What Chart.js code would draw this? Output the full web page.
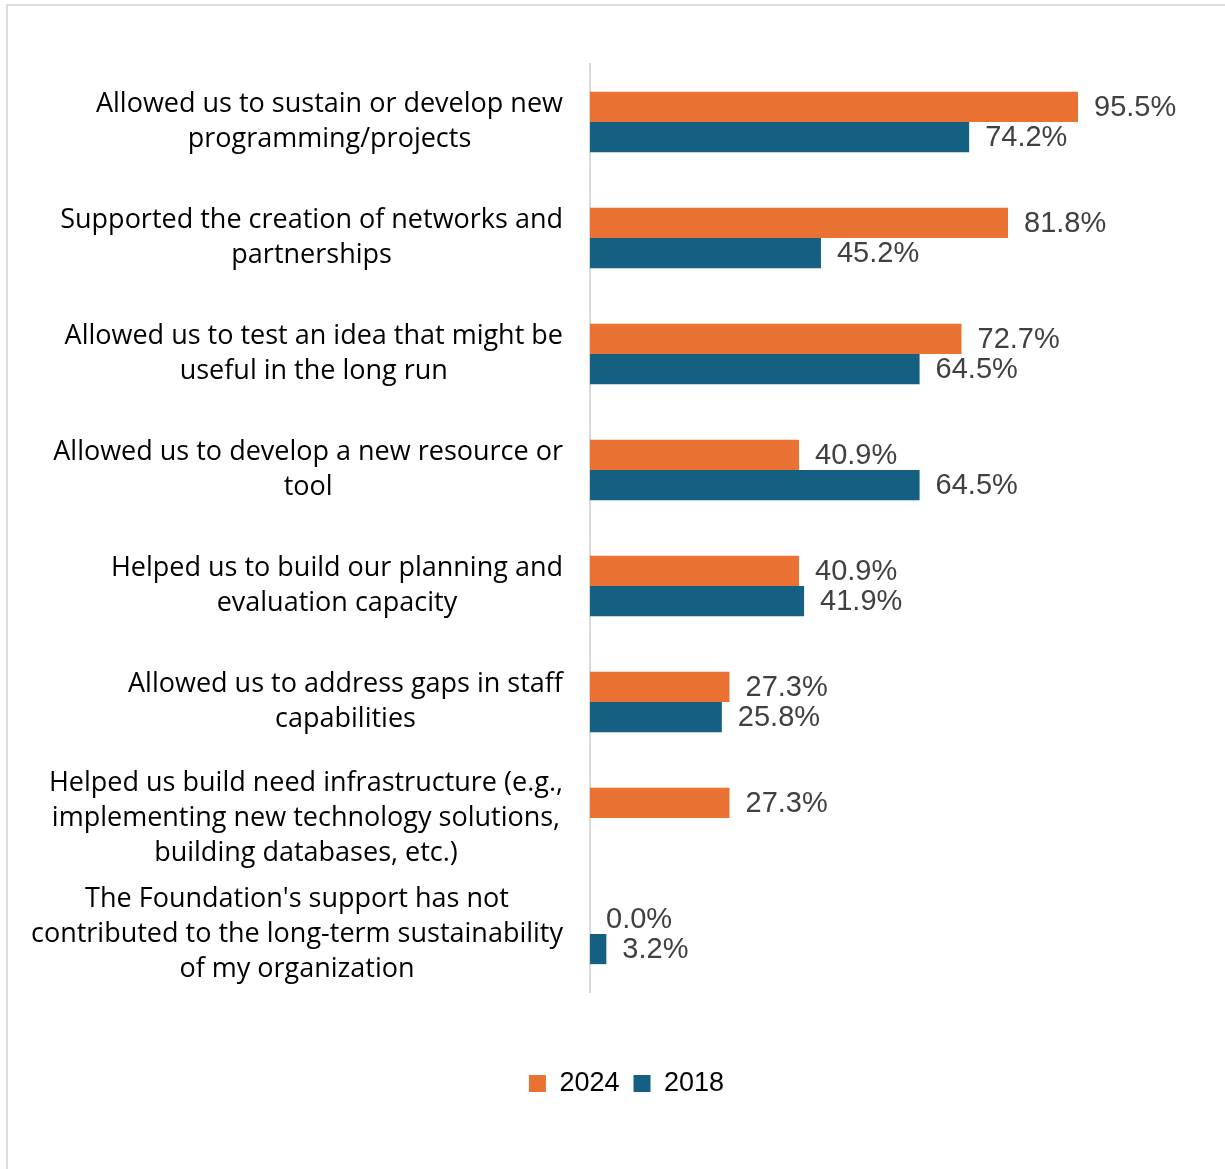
<!DOCTYPE html>
<html>
<head>
<meta charset="utf-8">
<script src="https://cdn.jsdelivr.net/npm/chart.js@4.4.1/dist/chart.umd.min.js"></script>
<style>
  html, body { margin: 0; padding: 0; background: #fff; overflow: hidden; }
  .card { position: absolute; left: 6px; top: 4px; width: 1250px; height: 1200px; border: 2px solid #dcdcdc; box-sizing: border-box; }
  #chart { position: absolute; left: 0; top: 0; }
</style>
</head>
<body>
<div class="card"></div>
<canvas id="chart" width="1253" height="1169"></canvas>
<script>
const categories = [
  ['Allowed us to sustain or develop new', 'programming/projects'],
  ['Supported the creation of networks and', 'partnerships'],
  ['Allowed us to test an idea that might be', 'useful in the long run'],
  ['Allowed us to develop a new resource or', 'tool'],
  ['Helped us to build our planning and', 'evaluation capacity'],
  ['Allowed us to address gaps in staff', 'capabilities'],
  ['Helped us build need infrastructure (e.g.,', 'implementing new technology solutions,', 'building databases, etc.)'],
  ["The Foundation's support has not", 'contributed to the long-term sustainability', 'of my organization']
];
const values2024 = [95.5, 81.8, 72.7, 40.9, 40.9, 27.3, 27.3, 0.0];
const values2018 = [74.2, 45.2, 64.5, 64.5, 41.9, 25.8, null, 3.2];
const seriesNames = ['2024', '2018'];

const ORANGE = '#E97132';
const BLUE = '#156082';

// category labels: each block centred on its own widest line, block right-aligned to the axis
const categoryLabels = {
  id: 'categoryLabels',
  afterDraw(chart) {
    const ctx = chart.ctx;
    const y = chart.scales.y;
    const right = chart.chartArea.left - 27;
    const lineH = 35;
    ctx.save();
    ctx.font = '27px "Open Sans"';
    ctx.fillStyle = '#000';
    ctx.textAlign = 'center';
    ctx.textBaseline = 'middle';
    categories.forEach((lines, i) => {
      const w = Math.max(...lines.map(l => ctx.measureText(l).width));
      const cx = right - w / 2;
      const cy = y.getPixelForValue(i);
      lines.forEach((l, k) => {
        ctx.fillText(l, cx, cy + (k - (lines.length - 1) / 2) * lineH);
      });
    });
    ctx.restore();
  }
};

// value labels at the end of each bar
const valueLabels = {
  id: 'valueLabels',
  afterDatasetsDraw(chart) {
    const ctx = chart.ctx;
    ctx.save();
    ctx.font = '29px "Liberation Sans", Arial, sans-serif';
    ctx.fillStyle = '#404040';
    ctx.textAlign = 'left';
    ctx.textBaseline = 'middle';
    chart.data.datasets.forEach((ds, di) => {
      const meta = chart.getDatasetMeta(di);
      meta.data.forEach((bar, i) => {
        const v = ds.data[i];
        if (v === null || v === undefined) return;
        ctx.fillText(v.toFixed(1) + '%', bar.x + 16, bar.y + 1);
      });
    });
    ctx.restore();
  }
};

new Chart(document.getElementById('chart'), {
  type: 'bar',
  data: {
    labels: categories.map(c => c.join(' ')),
    datasets: [
      { label: seriesNames[0], data: values2024, backgroundColor: ORANGE },
      { label: seriesNames[1], data: values2018, backgroundColor: BLUE }
    ]
  },
  options: {
    indexAxis: 'y',
    responsive: false,
    animation: false,
    devicePixelRatio: 1,
    categoryPercentage: 0.52,
    barPercentage: 1,
    layout: { padding: { left: 0, top: 64, right: 0, bottom: 62 } },
    scales: {
      x: {
        min: 0,
        max: 100,
        grid: { display: false },
        border: { display: false },
        ticks: { display: false },
        afterFit(scale) { scale.height = 64; }
      },
      y: {
        grid: { display: false },
        border: { display: true, color: '#d9d9d9', width: 2 },
        ticks: { display: false },
        afterFit(scale) { scale.width = 590; }
      },
      // empty right-hand axis, only reserves room for the value labels
      yRight: {
        type: 'linear',
        position: 'right',
        grid: { display: false },
        border: { display: false },
        ticks: { display: false },
        afterFit(scale) { scale.width = 152; }
      }
    },
    plugins: {
      legend: {
        position: 'bottom',
        labels: {
          boxWidth: 17,
          boxHeight: 17,
          padding: 14,
          color: '#000',
          font: { family: '"Liberation Sans", Arial, sans-serif', size: 27 }
        }
      },
      tooltip: { enabled: false }
    }
  },
  plugins: [categoryLabels, valueLabels]
});
</script>
</body>
</html>
